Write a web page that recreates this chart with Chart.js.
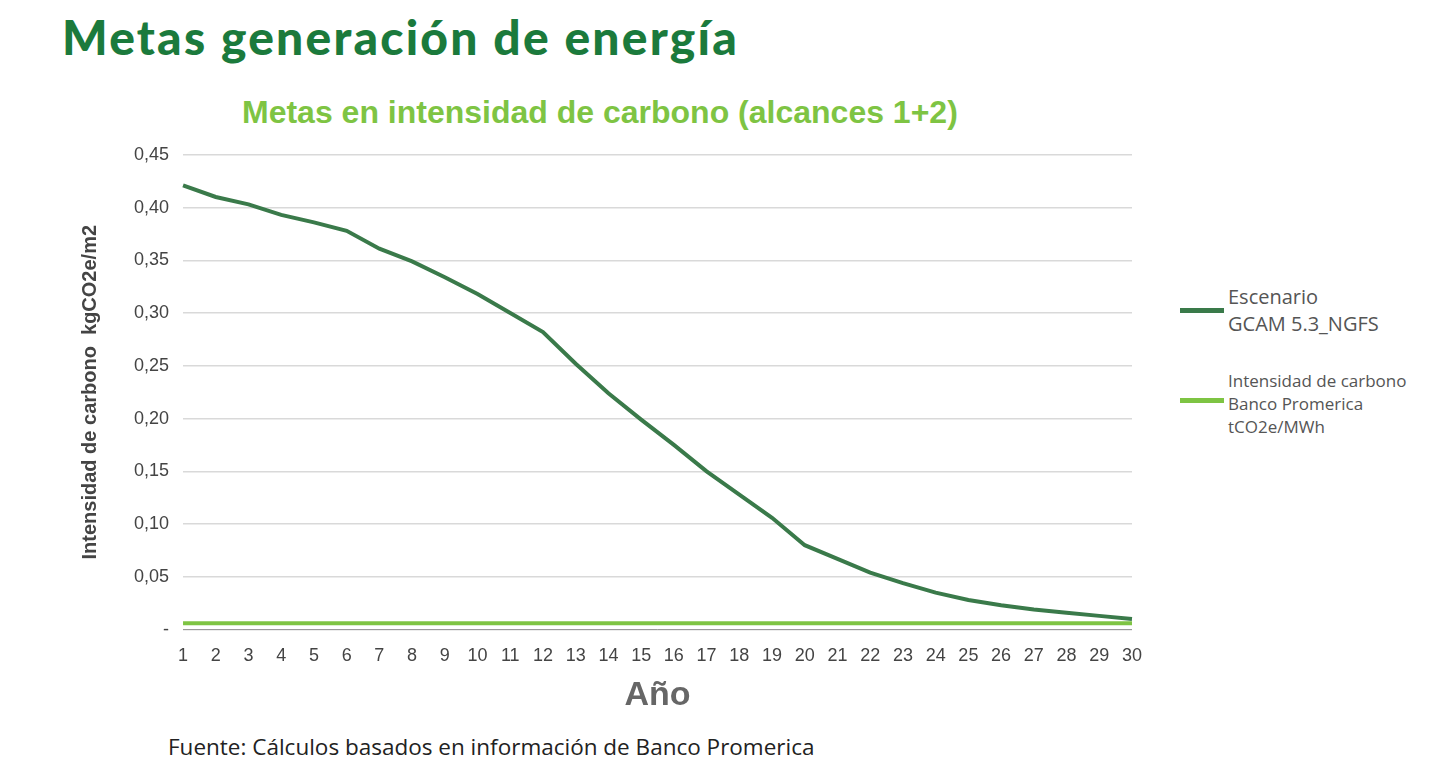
<!DOCTYPE html>
<html><head><meta charset="utf-8">
<script src="https://cdn.jsdelivr.net/npm/chart.js@4"></script>
<style>
body{margin:0;width:1448px;height:776px;background:#fff;position:relative;font-family:"Liberation Sans",Arial,sans-serif;overflow:hidden}
#t{position:absolute;left:62px;top:8px;font-family:"Lato","Open Sans",sans-serif;font-weight:900;font-size:48px;color:#1b7a3c;letter-spacing:2.2px}
#st{position:absolute;left:242px;top:94px;font-weight:bold;font-size:32px;color:#7ec443}
#c{position:absolute;left:60px;top:130px;width:1090px;height:590px}
#lg{position:absolute;left:1180px;top:283px;font-family:"Open Sans",sans-serif;color:#555}
.it{position:relative;padding-left:48px}
.it span{position:absolute;left:0;width:44px;height:5px}
#f{position:absolute;left:168px;top:731px;font-family:"Open Sans",sans-serif;font-size:22.5px;color:#222}
</style></head><body>
<div id="t">Metas generación de energía</div>
<div id="st">Metas en intensidad de carbono (alcances 1+2)</div>
<div id="c"><canvas id="cv"></canvas></div>
<div id="lg">
<div class="it" style="font-size:20px;line-height:27px"><span style="background:#3a7a4a;top:25px"></span>Escenario<br>GCAM 5.3_NGFS</div>
<div class="it" style="font-size:17px;line-height:23px;margin-top:32px"><span style="background:#7ec443;top:29px"></span>Intensidad de carbono<br>Banco Promerica<br>tCO2e/MWh</div>
</div>
<div id="f">Fuente: Cálculos basados en información de Banco Promerica</div>
<script>
const years=[1,2,3,4,5,6,7,8,9,10,11,12,13,14,15,16,17,18,19,20,21,22,23,24,25,26,27,28,29,30];
const scenario=[0.421,0.410,0.403,0.393,0.386,0.378,0.361,0.349,0.334,0.318,0.300,0.282,0.252,0.224,0.199,0.175,0.150,0.128,0.106,0.080,0.067,0.054,0.044,0.035,0.028,0.023,0.019,0.016,0.013,0.010];
const promerica=years.map(()=>0.006);
const yTicks=[0,0.05,0.10,0.15,0.20,0.25,0.30,0.35,0.40,0.45];
new Chart(document.getElementById('cv'),{type:'line',
data:{labels:years,datasets:[
{label:'Escenario GCAM 5.3_NGFS',data:scenario,borderColor:'#3a7a4a',borderWidth:4,pointRadius:0,tension:0},
{label:'Intensidad de carbono Banco Promerica tCO2e/MWh',data:promerica,borderColor:'#7ec443',borderWidth:4,pointRadius:0}]},
options:{responsive:true,maintainAspectRatio:false,animation:false,
layout:{padding:{top:9,right:18,left:14,bottom:0}},
plugins:{legend:{display:false},tooltip:{enabled:false}},
scales:{
x:{offset:false,grid:{display:false},border:{color:'#999'},ticks:{color:'#444',font:{size:18},padding:8,maxRotation:0,autoSkip:false},
 title:{display:true,text:'Año',color:'#666',font:{size:34,weight:'bold'},padding:{top:0}}},
y:{min:0,max:0.45,afterBuildTicks:a=>{a.ticks=yTicks.map(v=>({value:v}));},
 grid:{color:'#d9d9d9',lineWidth:1.5,drawTicks:false},border:{display:false},
 ticks:{color:'#444',font:{size:18},padding:14,callback:v=>v===0?'-':v.toFixed(2).replace('.',',')},
 title:{display:true,text:'Intensidad de carbono  kgCO2e/m2',color:'#444',font:{size:20,weight:'bold'},padding:{bottom:18}}}}}});
</script>
</body></html>
